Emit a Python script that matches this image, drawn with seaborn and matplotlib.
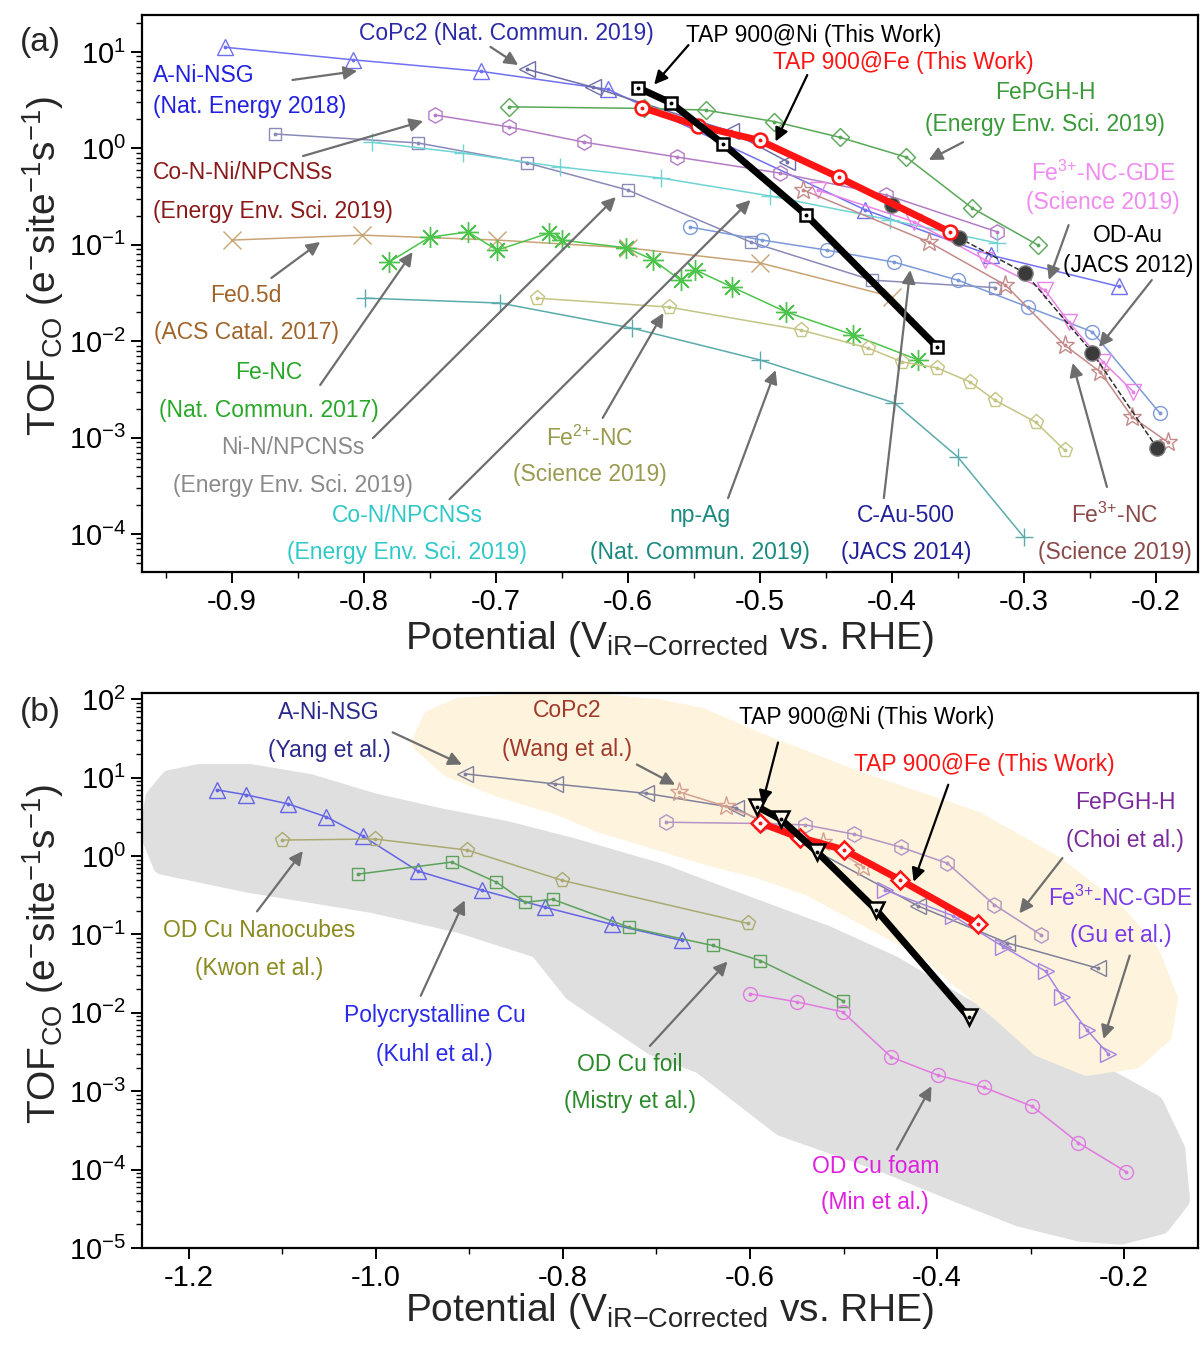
import numpy as np
import matplotlib
matplotlib.use("Agg")
import matplotlib.pyplot as plt
import seaborn as sns
from matplotlib.ticker import MultipleLocator, LogLocator, FormatStrFormatter, NullFormatter

sns.set_style("ticks")
plt.rcParams["font.family"] = ["Liberation Sans", "DejaVu Sans"]
plt.rcParams["mathtext.fontset"] = "custom"
plt.rcParams["mathtext.rm"] = "Liberation Sans"
plt.rcParams["mathtext.it"] = "Liberation Sans:italic"
plt.rcParams["mathtext.bf"] = "Liberation Sans:bold"
plt.rcParams["mathtext.default"] = "regular"
plt.rcParams["axes.unicode_minus"] = False

# ---------------- data (potential in V, TOF in s^-1) ----------------
tap_ni_x = [-0.592, -0.567, -0.528, -0.465, -0.366]
tap_ni_y = [4.25, 2.95, 1.12, 0.205, 0.0088]
tap_fe_x = [-0.589, -0.547, -0.500, -0.440, -0.356]
tap_fe_y = [2.65, 1.72, 1.21, 0.50, 0.136]

a_ni_nsg_x = [-0.905, -0.808, -0.711, -0.615, -0.420, -0.325, -0.228]
a_ni_nsg_y = [11.2, 8.3, 6.3, 4.1, 0.23, 0.078, 0.037]
copc2_x = [-0.676, -0.626, -0.522, -0.479]
copc2_y = [6.6, 4.3, 1.5, 0.73]
fepgh_x = [-0.690, -0.588, -0.541, -0.489, -0.439, -0.389, -0.339, -0.289]
fepgh_y = [2.7, 2.6, 2.5, 1.9, 1.3, 0.81, 0.24, 0.099]
gde_x = [-0.456, -0.383, -0.329, -0.284, -0.266, -0.240, -0.217]
gde_y = [0.37, 0.173, 0.0695, 0.034, 0.0159, 0.0061, 0.0030]

conini_x = [-0.746, -0.690, -0.633, -0.563, -0.485, -0.404, -0.320]
conini_y = [2.22, 1.67, 1.16, 0.815, 0.556, 0.329, 0.136]
nin_x = [-0.867, -0.759, -0.676, -0.600, -0.507, -0.415, -0.322]
nin_y = [1.41, 1.14, 0.706, 0.370, 0.107, 0.043, 0.036]
con_x = [-0.794, -0.725, -0.651, -0.575, -0.492, -0.401, -0.320]
con_y = [1.16, 0.895, 0.641, 0.493, 0.321, 0.181, 0.104]
cau_x = [-0.553, -0.498, -0.449, -0.398, -0.350, -0.297, -0.248, -0.197]
cau_y = [0.153, 0.112, 0.088, 0.066, 0.043, 0.0227, 0.0125, 0.0018]
fe05_x = [-0.900, -0.801, -0.699, -0.600, -0.500, -0.400]
fe05_y = [0.112, 0.126, 0.112, 0.093, 0.065, 0.029]
fenc_x = [-0.781, -0.750, -0.721, -0.699, -0.660, -0.650, -0.601, -0.581,
          -0.560, -0.549, -0.521, -0.480, -0.429, -0.380]
fenc_y = [0.066, 0.120, 0.136, 0.088, 0.132, 0.112, 0.093, 0.070,
          0.043, 0.055, 0.0365, 0.0201, 0.0116, 0.0064]
fe2nc_x = [-0.669, -0.569, -0.469, -0.418, -0.392, -0.366, -0.341, -0.322, -0.291, -0.269]
fe2nc_y = [0.028, 0.0226, 0.0131, 0.0085, 0.0061, 0.0053, 0.0038, 0.00245, 0.00145, 0.00074]
npag_x = [-0.799, -0.697, -0.597, -0.500, -0.398, -0.350, -0.300]
npag_y = [0.028, 0.0249, 0.0137, 0.0064, 0.00229, 0.00063, 0.000093]
fe3nc_x = [-0.467, -0.372, -0.314, -0.269, -0.242, -0.218, -0.191]
fe3nc_y = [0.37, 0.107, 0.0383, 0.0091, 0.0048, 0.00164, 0.0009]
odau_x = [-0.400, -0.349, -0.299, -0.248, -0.199]
odau_y = [0.259, 0.118, 0.051, 0.0076, 0.00078]

# panel (b) copper catalysts
poly_cu_x = [-1.170, -1.139, -1.094, -1.053, -1.014, -0.955, -0.887, -0.819, -0.747, -0.673]
poly_cu_y = [7.0, 6.05, 4.64, 3.16, 1.80, 0.643, 0.367, 0.222, 0.134, 0.0838]
cu_foil_x = [-1.019, -0.919, -0.871, -0.840, -0.811, -0.729, -0.640, -0.589, -0.501]
cu_foil_y = [0.588, 0.837, 0.464, 0.257, 0.281, 0.123, 0.0723, 0.0464, 0.0143]
cu_cube_x = [-1.100, -1.001, -0.902, -0.801, -0.602]
cu_cube_y = [1.60, 1.65, 1.19, 0.49, 0.138]
cu_foam_x = [-0.600, -0.550, -0.501, -0.449, -0.399, -0.350, -0.298, -0.249, -0.198]
cu_foam_y = [0.0175, 0.0138, 0.0103, 0.00273, 0.0016, 0.00112, 0.00064, 0.00022, 0.000094]

# highlight regions of panel (b): potential, log10(TOF)
gray_zone_x = [-1.236, -1.220, -1.188, -1.135, -1.071, -1.003, -0.932, -0.860, -0.789, -0.696,
               -0.625, -0.518, -0.447, -0.375, -0.301, -0.211, -0.168, -0.145, -0.140, -0.161,
               -0.204, -0.247, -0.312, -0.386, -0.457, -0.566, -0.652, -0.703, -0.789, -0.826,
               -0.910, -1.003, -1.135, -1.228, -1.242]
gray_zone_ly = [0.744, 0.974, 1.051, 1.051, 0.923, 0.679, 0.487, 0.321, 0.103, -0.218,
                -0.538, -1.013, -1.397, -1.910, -2.397, -2.885, -3.167, -3.744, -4.385, -4.705,
                -4.833, -4.795, -4.603, -4.256, -3.910, -3.449, -2.654, -2.423, -1.731, -1.179,
                -0.859, -0.603, -0.346, -0.115, 0.295]
peach_zone_x = [-0.951, -0.940, -0.910, -0.825, -0.753, -0.696, -0.653, -0.591, -0.486, -0.359,
                -0.275, -0.211, -0.172, -0.153, -0.159, -0.189, -0.240, -0.290, -0.333, -0.381,
                -0.411, -0.482, -0.536, -0.589, -0.643, -0.696, -0.760, -0.803, -0.867, -0.921]
peach_zone_ly = [1.449, 1.744, 1.897, 1.962, 1.936, 1.872, 1.769, 1.449, 0.962, 0.449,
                 -0.115, -0.705, -1.244, -1.821, -2.269, -2.590, -2.679, -2.436, -1.974, -1.5,
                 -1.179, -0.731, -0.385, -0.167, 0.0, 0.192, 0.423, 0.641, 0.872, 1.128]

GRAY = "#6e6e6e"
RED = "#ff1414"

# label text, colour, x, y of each line, alignment, arrow tail, arrow head, arrow colour
labels_a = [
    (["A-Ni-NSG", "(Nat. Energy 2018)"], "#2020e0", -0.960, [5.64, 2.69], "left", (-0.854, 5.13), (-0.805, 6.36), GRAY),
    (["CoPc2 (Nat. Commun. 2019)"], "#2a2aa8", -0.692, [15.4], "center", (-0.704, 11.3), (-0.683, 7.33), GRAY),
    (["TAP 900@Ni (This Work)"], "black", -0.459, [15.0], "center", (-0.554, 11.8), (-0.580, 4.6), "black"),
    (["TAP 900@Fe (This Work)"], RED, -0.391, [7.87], "center", (-0.464, 5.77), (-0.488, 1.18), "black"),
    (["FePGH-H", "(Energy Env. Sci. 2019)"], "#3a9a3a", -0.284, [3.76, 1.75], "center", (-0.346, 1.16), (-0.372, 0.759), GRAY),
    (["Fe$^{3{+}}$-NC-GDE", "(Science 2019)"], "#f08cf0", -0.240, [0.556, 0.272], "center", (-0.266, 0.160), (-0.281, 0.0432), GRAY),
    (["OD-Au", "(JACS 2012)"], "black", -0.221, [0.126, 0.0617], "center", (-0.203, 0.0431), (-0.243, 0.0087), GRAY),
    (["Fe$^{3{+}}$-NC", "(Science 2019)"], "#8b4a4a", -0.231, [1.55e-4, 6.5e-5], "center", (-0.237, 3.08e-4), (-0.263, 0.00594), GRAY),
    (["C-Au-500", "(JACS 2014)"], "#20209a", -0.389, [1.55e-4, 6.5e-5], "center", (-0.406, 2.36e-4), (-0.386, 0.0548), GRAY),
    (["np-Ag", "(Nat. Commun. 2019)"], "#1a8a80", -0.545, [1.55e-4, 6.5e-5], "center", (-0.524, 2.36e-4), (-0.488, 0.00502), GRAY),
    (["Fe$^{2{+}}$-NC", "(Science 2019)"], "#9a9a50", -0.629, [9.9e-4, 4.1e-4], "center", (-0.619, 0.0016), (-0.573, 0.0196), GRAY),
    (["Co-N/NPCNSs", "(Energy Env. Sci. 2019)"], "#30c8c8", -0.767, [1.55e-4, 6.5e-5], "center", (-0.735, 2.3e-4), (-0.507, 0.292), GRAY),
    (["Ni-N/NPCNSs", "(Energy Env. Sci. 2019)"], "#8a8a8a", -0.854, [7.98e-4, 3.2e-4], "center", (-0.793, 9.9e-4), (-0.609, 0.313), GRAY),
    (["Fe-NC", "(Nat. Commun. 2017)"], "#28a828", -0.872, [0.00478, 0.00193], "center", (-0.833, 0.00352), (-0.763, 0.0841), GRAY),
    (["Fe0.5d", "(ACS Catal. 2017)"], "#a0642a", -0.889, [0.0301, 0.01245], "center", (-0.870, 0.0453), (-0.833, 0.107), GRAY),
    (["Co-N-Ni/NPCNSs", "(Energy Env. Sci. 2019)"], "#8a1a1a", -0.960, [0.556, 0.219], "left", (-0.846, 0.834), (-0.755, 1.92), GRAY),
]
labels_b = [
    (["A-Ni-NSG", "(Yang et al.)"], "#2a2a8a", -1.050, [68, 22.2], "center", (-0.982, 37.8), (-0.908, 14.7), GRAY),
    (["CoPc2", "(Wang et al.)"], "#a03a2a", -0.796, [72.2, 22.8], "center", (-0.721, 14.7), (-0.680, 8.13), GRAY),
    (["TAP 900@Ni (This Work)"], "black", -0.475, [58.8], "center", (-0.570, 28.1), (-0.587, 4.6), "black"),
    (["TAP 900@Fe (This Work)"], RED, -0.349, [14.7], "center", (-0.388, 8.13), (-0.425, 0.47), "black"),
    (["FePGH-H", "(Choi et al.)"], "#7a2a9a", -0.199, [4.77, 1.6], "center", (-0.266, 0.942), (-0.312, 0.186), GRAY),
    (["Fe$^{3{+}}$-NC-GDE", "(Gu et al.)"], "#7a3ae8", -0.204, [0.29, 0.097], "center", (-0.194, 0.0538), (-0.222, 0.00464), GRAY),
    (["OD Cu Nanocubes", "(Kwon et al.)"], "#8a8a20", -1.125, [0.112, 0.0366], "center", (-1.127, 0.197), (-1.078, 1.16), GRAY),
    (["Polycrystalline Cu", "(Kuhl et al.)"], "#2a2ae8", -0.937, [0.00917, 0.00298], "center", (-0.952, 0.0165), (-0.905, 0.273), GRAY),
    (["OD Cu foil", "(Mistry et al.)"], "#2a8a2a", -0.728, [0.00222, 0.000745], "center", (-0.707, 0.00378), (-0.624, 0.0451), GRAY),
    (["OD Cu foam", "(Min et al.)"], "#e020e0", -0.466, [1.09e-4, 3.8e-5], "center", (-0.443, 1.8e-4), (-0.406, 0.00116), GRAY),
]


def series(ax, x, y, color, marker, ms=10, lw=1.1, mfc="none", mec=None, mew=1.0,
           ls="-", dot=True, z=3):
    mec = mec or color
    sns.lineplot(x=x, y=y, ax=ax, color=color, marker=marker, markersize=ms,
                 markerfacecolor=mfc, markeredgecolor=mec, markeredgewidth=mew,
                 linewidth=lw, linestyle=ls, sort=False, estimator=None,
                 zorder=z, legend=False)
    if dot:
        ax.plot(x, y, ls="none", marker="o", ms=1.8, color=mec, zorder=z + 0.1)


def add_labels(ax, specs):
    for lines, color, x, ys, ha, tail, head, acolor in specs:
        for t, yy in zip(lines, ys):
            ax.text(x, yy, t, color=color, ha=ha, va="center", fontsize=16.5, zorder=8)
        ax.annotate("", xy=head, xytext=tail, zorder=8,
                    arrowprops=dict(arrowstyle="-|>", color=acolor, lw=1.6,
                                    mutation_scale=20, shrinkA=0, shrinkB=0))


def finish(ax, xlim, ylim, xmaj, xmin, ylabel_y):
    ax.set_xlim(*xlim)
    ax.set_ylim(*ylim)
    ax.xaxis.set_major_locator(MultipleLocator(xmaj))
    ax.xaxis.set_minor_locator(MultipleLocator(xmin))
    ax.xaxis.set_major_formatter(FormatStrFormatter("%.1f"))
    ax.yaxis.set_major_locator(LogLocator(base=10, numticks=20))
    ax.yaxis.set_minor_locator(LogLocator(base=10, subs=np.arange(2, 10), numticks=200))
    ax.yaxis.set_minor_formatter(NullFormatter())
    ax.tick_params(which="major", length=8, width=1.4, labelsize=21, direction="out",
                   colors="black")
    ax.tick_params(which="minor", length=4, width=1.0, direction="out", colors="black")
    for s in ax.spines.values():
        s.set_visible(True)
        s.set_linewidth(1.6)
        s.set_color("black")
    ax.set_xlabel("Potential (V$_{iR{-}Corrected}$ vs. RHE)", fontsize=28)
    ax.set_ylabel("TOF$_{CO}$ (e$^{-}$site$^{-1}$s$^{-1}$)", fontsize=28)
    ax.yaxis.set_label_coords(-0.072, ylabel_y)


fig = plt.figure(figsize=(12.01, 13.45), dpi=100)
W, H = 1201, 1345
ax_a = fig.add_axes([142 / W, 1 - 572 / H, 1056 / W, 557 / H])
ax_b = fig.add_axes([142 / W, 1 - 1248 / H, 1056 / W, 555 / H])

# ---------------- panel (a) ----------------
ax_a.set_yscale("log")
series(ax_a, a_ni_nsg_x, a_ni_nsg_y, "#7070f0", "^", ms=11)
series(ax_a, copc2_x, copc2_y, "#6e6ea8", "<", ms=11)
series(ax_a, fepgh_x, fepgh_y, "#58a858", "D", ms=9)
series(ax_a, conini_x, conini_y, "#b47cc4", "h", ms=11)
series(ax_a, nin_x, nin_y, "#8a8ab8", "s", ms=9)
series(ax_a, con_x, con_y, "#70d4d4", "+", ms=13, dot=False)
series(ax_a, cau_x, cau_y, "#7c9ad8", "o", ms=10)
series(ax_a, fe05_x, fe05_y, "#c8a474", "x", ms=13, dot=False)
series(ax_a, fenc_x, fenc_y, "#4cc44c", (8, 2, 0), ms=15, dot=False)
series(ax_a, fe2nc_x, fe2nc_y, "#c4c484", "p", ms=11)
series(ax_a, npag_x, npag_y, "#5aacac", "+", ms=13, dot=False)
series(ax_a, gde_x, gde_y, "#e884e8", "v", ms=11)
series(ax_a, fe3nc_x, fe3nc_y, "#c48a8a", "*", ms=14)
series(ax_a, odau_x, odau_y, "#303030", "o", ms=11, mfc="#3a3a3a", mec="#808080",
       ls="--", dot=False, z=4)
series(ax_a, tap_fe_x, tap_fe_y, RED, "o", ms=10, lw=5, mfc="white", mew=1.8, z=5)
series(ax_a, tap_ni_x, tap_ni_y, "black", "s", ms=9, lw=5, mfc="white", mew=1.8, z=6)
add_labels(ax_a, labels_a)
finish(ax_a, (-0.968, -0.168), (10 ** -4.394, 10 ** 1.384), 0.1, 0.05, 0.55)
ax_a.xaxis.set_label_coords(0.5, -0.085)

# ---------------- panel (b) ----------------
ax_b.set_yscale("log")
ax_b.fill(gray_zone_x, 10 ** np.array(gray_zone_ly), facecolor="#dfdfdf",
          edgecolor="#dfdfdf", lw=14, joinstyle="round", zorder=0)
ax_b.fill(peach_zone_x, 10 ** np.array(peach_zone_ly), facecolor="#fef3dd",
          edgecolor="#fef3dd", lw=14, joinstyle="round", zorder=0)
series(ax_b, poly_cu_x, poly_cu_y, "#6464e6", "^", ms=11)
series(ax_b, cu_foil_x, cu_foil_y, "#5ca25c", "s", ms=9)
series(ax_b, cu_cube_x, cu_cube_y, "#aaaa70", "p", ms=11)
series(ax_b, cu_foam_x, cu_foam_y, "#e07ae0", "o", ms=10)
series(ax_b, a_ni_nsg_x, a_ni_nsg_y, "#80809c", "<", ms=11)
series(ax_b, copc2_x, copc2_y, "#d4a090", "*", ms=14)
series(ax_b, fepgh_x, fepgh_y, "#b494c4", "h", ms=11)
series(ax_b, gde_x, gde_y, "#a684e0", ">", ms=11)
series(ax_b, tap_fe_x, tap_fe_y, RED, "D", ms=9, lw=5, mfc="white", mew=1.8, z=5)
series(ax_b, tap_ni_x, tap_ni_y, "black", "v", ms=11, lw=5, mfc="#fffaf0", mew=1.8, z=6)
add_labels(ax_b, labels_b)
finish(ax_b, (-1.250, -0.121), (1e-5, 10 ** 2.08), 0.2, 0.1, 0.53)
ax_b.xaxis.set_label_coords(0.5, -0.078)

fig.text(40 / W, 1 - 42 / H, "(a)", fontsize=24, ha="center", va="center")
fig.text(40 / W, 1 - 713 / H, "(b)", fontsize=24, ha="center", va="center")

fig.savefig("out.png", dpi=100)
